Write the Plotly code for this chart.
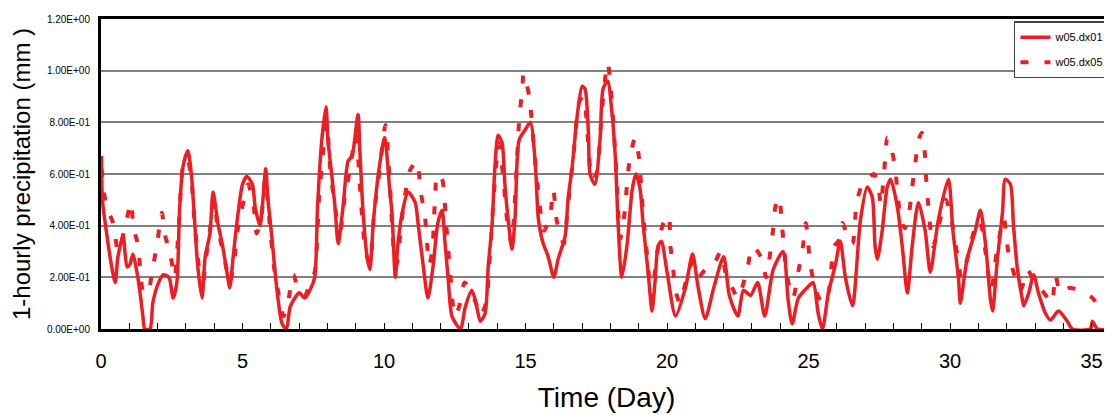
import plotly.graph_objects as go

# ---- data ----
days_dx01 = [0.02, 0.05, 0.2, 0.38, 0.5, 0.6, 0.78, 0.92, 1.02, 1.13, 1.27, 1.38, 1.48, 1.55, 1.73, 1.83,
             2.0, 2.2, 2.4, 2.55, 2.68, 2.78, 2.9, 3.07, 3.2, 3.3, 3.42, 3.57, 3.68, 3.85, 3.96, 4.13,
             4.3, 4.45, 4.55, 4.67, 4.8, 5.0, 5.15, 5.35, 5.45, 5.62, 5.72, 5.82, 5.9, 6.05, 6.15, 6.25,
             6.4, 6.55, 6.68, 6.85, 7.0, 7.2, 7.38, 7.55, 7.65, 7.8, 7.95, 8.02, 8.15, 8.27, 8.38, 8.55,
             8.73, 8.87, 9.08, 9.15, 9.25, 9.4, 9.5, 9.62, 9.8, 10.02, 10.2, 10.28, 10.4, 10.5, 10.68,
             10.85, 11.1, 11.2, 11.38, 11.55, 11.73, 11.9, 12.05, 12.15, 12.27, 12.4, 12.7, 12.87, 13.1,
             13.25, 13.4, 13.57, 13.68, 13.82, 13.92, 14.03, 14.17, 14.27, 14.38, 14.52, 14.63, 14.77,
             14.98, 15.17, 15.35, 15.45, 15.6, 15.8, 16.0, 16.15, 16.4, 16.5, 16.65, 16.82, 17.0, 17.1,
             17.22, 17.28, 17.45, 17.63, 17.74, 17.9, 18.05, 18.17, 18.27, 18.4, 18.58, 18.77, 18.9,
             19.05, 19.15, 19.33, 19.47, 19.58, 19.68, 19.8, 20.0, 20.3, 20.65, 20.9, 21.1, 21.35,
             21.65, 22.0, 22.2, 22.5, 22.7, 22.95, 23.2, 23.45, 23.75, 24.1, 24.28, 24.42, 24.64,
             24.95, 25.16, 25.34, 25.49, 25.7, 25.95, 26.12, 26.3, 26.55, 26.83, 27.07, 27.25, 27.35,
             27.43, 27.6, 27.78, 27.9, 28.14, 28.31, 28.49, 28.66, 28.88, 29.12, 29.3, 29.58, 29.94,
             30.1, 30.3, 30.36, 30.6, 30.89, 31.07, 31.25, 31.43, 31.5, 31.67, 31.85, 31.95, 32.13,
             32.24, 32.38, 32.56, 32.6, 32.78, 32.95, 33.12, 33.37, 33.55, 33.83, 34.14, 34.32, 34.95,
             35.03, 35.2, 35.75]
precip_dx01 = [0.67, 0.5, 0.37, 0.24, 0.18, 0.28, 0.36, 0.24, 0.25, 0.29, 0.22, 0.14, 0.05, 0.0, 0.0, 0.1,
               0.17, 0.21, 0.2, 0.12, 0.18, 0.47, 0.63, 0.69, 0.59, 0.43, 0.24, 0.12, 0.28, 0.37, 0.53, 0.41,
               0.32, 0.22, 0.16, 0.28, 0.41, 0.56, 0.59, 0.56, 0.47, 0.4, 0.5, 0.62, 0.5, 0.34, 0.22, 0.12,
               0.02, 0.0, 0.085, 0.12, 0.14, 0.12, 0.15, 0.2, 0.47, 0.73, 0.86, 0.73, 0.6, 0.47, 0.33, 0.47,
               0.65, 0.67, 0.83, 0.68, 0.47, 0.28, 0.23, 0.41, 0.6, 0.74, 0.54, 0.45, 0.2, 0.34, 0.47,
               0.53, 0.49, 0.41, 0.25, 0.12, 0.24, 0.41, 0.46, 0.34, 0.19, 0.05, 0.0, 0.085, 0.15,
               0.1, 0.03, 0.06, 0.24, 0.41, 0.63, 0.75, 0.72, 0.56, 0.43, 0.31, 0.43, 0.73,
               0.77, 0.8, 0.63, 0.43, 0.34, 0.28, 0.2, 0.27, 0.36, 0.5, 0.63, 0.82, 0.94, 0.93,
               0.76, 0.6, 0.56, 0.73, 0.93, 0.96, 0.84, 0.67, 0.41, 0.2, 0.32, 0.54, 0.6,
               0.54, 0.41, 0.22, 0.07, 0.19, 0.32, 0.34, 0.22, 0.05, 0.16, 0.29, 0.16, 0.04,
               0.16, 0.28, 0.13, 0.05, 0.15, 0.13, 0.18, 0.05, 0.23, 0.3, 0.11, 0.02, 0.12,
               0.16, 0.18, 0.06, 0.0, 0.14, 0.25, 0.34, 0.2, 0.09, 0.42, 0.55, 0.51, 0.32,
               0.27, 0.38, 0.55, 0.58, 0.47, 0.32, 0.14, 0.32, 0.49, 0.38, 0.22, 0.42, 0.58,
               0.38, 0.19, 0.1, 0.27, 0.38, 0.46, 0.33, 0.11, 0.07, 0.27, 0.45, 0.58, 0.56,
               0.4, 0.23, 0.11, 0.09, 0.14, 0.21, 0.14, 0.06, 0.035, 0.07, 0.03, 0.0, 0.0,
               0.03, 0.0, 0.0]

days_dx05 = [0.02, 0.08, 0.2, 0.43, 0.6, 0.75, 0.92, 1.06, 1.15, 1.3, 1.38, 1.5, 1.65, 1.83, 1.97, 2.08,
             2.15, 2.27, 2.45, 2.6, 2.75, 2.9, 3.05, 3.2, 3.3, 3.45, 3.57, 3.7, 3.85, 3.97, 4.15, 4.35,
             4.55, 4.7, 4.85, 5.05, 5.2, 5.4, 5.5, 5.65, 5.8, 5.95, 6.1, 6.25, 6.45, 6.6, 6.8, 7.0, 7.2,
             7.4, 7.55, 7.7, 7.85, 7.97, 8.1, 8.3, 8.45, 8.6, 8.8, 9.0, 9.2, 9.35, 9.5, 9.65, 9.85,
             10.05, 10.2, 10.35, 10.45, 10.6, 10.75, 10.9, 11.15, 11.3, 11.45, 11.6, 11.7, 11.8, 11.88,
             12.05, 12.2, 12.35, 12.5, 12.65, 12.85, 13.05, 13.25, 13.4, 13.6, 13.75, 13.9, 14.05,
             14.2, 14.35, 14.5, 14.65, 14.78, 14.88, 14.93, 15.13, 15.3, 15.45, 15.65, 15.87, 15.98,
             16.1, 16.22, 16.35, 16.5, 16.7, 16.9, 17.05, 17.2, 17.35, 17.5, 17.7, 17.9, 18.05, 18.2,
             18.35, 18.5, 18.6, 18.7, 18.87, 19.0, 19.15, 19.3, 19.45, 19.6, 19.75, 19.87, 20.07,
             20.1, 20.2, 20.3, 20.45, 20.7, 20.9, 21.1, 21.35, 21.6, 21.9, 22.1, 22.3, 22.5, 22.85,
             23.0, 23.2, 23.35, 23.5, 23.65, 23.75, 23.82, 23.93, 24.0, 24.07, 24.25, 24.45, 24.65,
             24.8, 24.9, 24.97, 25.05, 25.25, 25.5, 25.7, 25.9, 26.05, 26.2, 26.4, 26.55, 26.7, 26.9,
             27.1, 27.3, 27.45, 27.55, 27.7, 27.78, 27.92, 28.05, 28.25, 28.4, 28.55, 28.65, 28.77,
             28.88, 29.0, 29.1, 29.15, 29.22, 29.4, 29.6, 29.85, 30.0, 30.25, 30.4, 30.65, 30.85,
             31.05, 31.25, 31.45, 31.65, 31.9, 31.98, 32.07, 32.3, 32.5, 32.73, 32.9, 33.25, 33.45,
             33.6, 33.72, 33.9, 34.25, 34.7, 35.03, 35.4, 35.75]
precip_dx05 = [0.62, 0.55, 0.47, 0.41, 0.3, 0.35, 0.43, 0.49, 0.39, 0.33, 0.24, 0.14, 0.14, 0.24, 0.32, 0.41,
               0.45, 0.36, 0.29, 0.2, 0.4, 0.63, 0.66, 0.57, 0.42, 0.25, 0.14, 0.27, 0.38, 0.5, 0.38, 0.28,
               0.18, 0.26, 0.4, 0.5, 0.56, 0.47, 0.37, 0.42, 0.58, 0.42, 0.25, 0.15, 0.05, 0.1, 0.21, 0.14, 0.13,
               0.18, 0.22, 0.5, 0.69, 0.8, 0.62, 0.45, 0.38, 0.5, 0.62, 0.75, 0.47, 0.3, 0.25, 0.45, 0.62,
               0.79, 0.57, 0.3, 0.25, 0.4, 0.52, 0.61, 0.65, 0.53, 0.43, 0.25, 0.3, 0.5, 0.6,
               0.58, 0.4, 0.2, 0.05, 0.085, 0.18, 0.15, 0.1, 0.05, 0.1, 0.3, 0.55, 0.72,
               0.6, 0.42, 0.33, 0.55, 0.82, 0.92, 0.99, 0.9, 0.7, 0.53, 0.38, 0.44, 0.54,
               0.42, 0.37, 0.33, 0.48, 0.68, 0.88, 0.9, 0.74, 0.58, 0.6, 0.85, 1.03, 0.88, 0.62,
               0.35, 0.45, 0.58, 0.67, 0.74, 0.67, 0.45, 0.28, 0.12, 0.25, 0.36, 0.41, 0.44,
               0.34, 0.25, 0.15, 0.1, 0.2, 0.26, 0.2, 0.23, 0.24, 0.3, 0.2, 0.16, 0.12, 0.24,
               0.32, 0.3, 0.27, 0.2, 0.3, 0.39, 0.47, 0.51, 0.48, 0.39, 0.2, 0.12, 0.23,
               0.32, 0.41, 0.35, 0.26, 0.15, 0.1, 0.14, 0.32, 0.34, 0.41, 0.35, 0.33, 0.49, 0.56,
               0.58, 0.6, 0.57, 0.48, 0.65, 0.74, 0.7, 0.63, 0.43, 0.39, 0.45, 0.54, 0.64,
               0.73, 0.76, 0.69, 0.59, 0.49, 0.32, 0.4, 0.5, 0.45, 0.29, 0.2, 0.29, 0.38,
               0.42, 0.3, 0.15, 0.3, 0.43, 0.36, 0.29, 0.2, 0.15, 0.23, 0.2, 0.15, 0.12,
               0.1, 0.21, 0.14, 0.16, 0.14, 0.12, 0.07, 0.1]

y_tick_values = [0.0, 0.2, 0.4, 0.6, 0.8, 1.0, 1.2]
y_tick_labels = ["0.00E+00", "2.00E-01", "4.00E-01", "6.00E-01", "8.00E-01", "1.00E+00", "1.20E+00"]
series_names = ["w05.dx01", "w05.dx05"]

RED = "#EE1D23"
FONT = "Liberation Sans, Arial, sans-serif"

fig = go.Figure()
fig.add_trace(go.Scatter(x=days_dx01, y=precip_dx01, mode="lines", name=series_names[0],
                         line=dict(color=RED, width=3.5, shape="spline", smoothing=0.7),
                         legendgroup="a"))
fig.add_trace(go.Scatter(x=days_dx05, y=precip_dx05, mode="lines", name=series_names[1],
                         line=dict(color=RED, width=4, dash="8px,16px", shape="spline", smoothing=0.7),
                         legendgroup="b"))

fig.add_shape(type="line", xref="paper", x0=0, x1=1, yref="y", y0=0.6, y1=0.6,
              line=dict(color="black", width=1.3), layer="below")

# the page body has an 8px default margin, so the figure is sized to fill the rest of the window
fig.update_layout(
    width=1104, height=407,
    margin=dict(l=93, r=0, t=11, b=86),
    paper_bgcolor="white", plot_bgcolor="white",
    font=dict(family=FONT, color="black"),
    showlegend=True,
    legend=dict(x=0.999, y=0.993, xanchor="right", yanchor="top",
                bgcolor="white", bordercolor="#444", borderwidth=1.5,
                font=dict(size=11, family=FONT), traceorder="grouped", tracegroupgap=6),
    xaxis=dict(range=[0, 35.72], dtick=5, tick0=0, automargin=False,
               showline=True, linecolor="black", linewidth=3, mirror=True,
               ticks="inside", ticklen=6, tickwidth=1.3, tickcolor="black",
               minor=dict(dtick=1, ticks="inside", ticklen=6, tickwidth=1.3, tickcolor="black"),
               showgrid=False, zeroline=False,
               tickfont=dict(size=20, family=FONT), ticklabelstandoff=12,
               title=dict(text="Time (Day)", font=dict(size=28, family=FONT), standoff=17)),
    yaxis=dict(range=[0, 1.2], tickvals=y_tick_values, ticktext=y_tick_labels, automargin=False,
               showline=True, linecolor="black", linewidth=3, mirror=False,
               ticks="", showgrid=True, gridcolor="#808080", gridwidth=1.5, zeroline=False,
               tickfont=dict(size=10, family=FONT), ticklabelstandoff=6,
               title=dict(text="1-hourly precipitation (mm )", font=dict(size=24, family=FONT), standoff=10)),
)

fig.write_html("out.html")
